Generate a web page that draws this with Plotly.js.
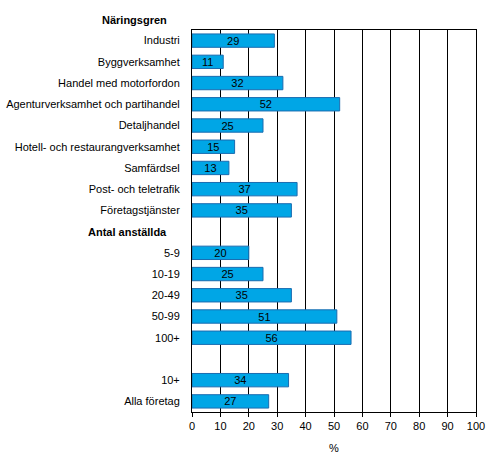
<!DOCTYPE html>
<html>
<head>
<meta charset="utf-8">
<script src="https://cdn.plot.ly/plotly-3.0.1.min.js"></script>
<style>html,body{margin:0;padding:0;background:#fff;}#chart{width:492px;height:471px;}</style>
</head>
<body>
<div id="chart"></div>
<script>
// Row keys (spacer rows have empty labels)
var rowKeys = ["Industri","Byggverksamhet","Handel med motorfordon","Agenturverksamhet och partihandel","Detaljhandel","Hotell- och restaurangverksamhet","Samfärdsel","Post- och teletrafik","Företagstjänster","gap1","5-9","10-19","20-49","50-99","100+","gap2","10+","Alla företag"];
var rowLabels = ["Industri","Byggverksamhet","Handel med motorfordon","Agenturverksamhet och partihandel","Detaljhandel","Hotell- och restaurangverksamhet","Samfärdsel","Post- och teletrafik","Företagstjänster","","5-9","10-19","20-49","50-99","100+","","10+","Alla företag"];
var values = [29,11,32,52,25,15,13,37,35,null,20,25,35,51,56,null,34,27];
var groupHeaders = ["Näringsgren","Antal anställda"];
var xTicks = [0,10,20,30,40,50,60,70,80,90,100];
var xTitle = "%";

var font = "Liberation Sans, Arial, sans-serif";

var trace = {
  type: "bar",
  orientation: "h",
  y: rowKeys,
  x: values,
  width: 0.63,
  marker: {color: "#00a6e6", line: {color: "#1a6cb0", width: 1}},
  text: values.map(function(v){return v===null?"":String(v);}),
  textposition: "inside",
  insidetextanchor: "middle",
  constraintext: "none",
  textangle: 0,
  textfont: {family: font, size: 11, color: "#000"},
  insidetextfont: {family: font, size: 11, color: "#000"},
  hoverinfo: "none",
  cliponaxis: false
};

var layout = {
  width: 492, height: 471,
  margin: {l: 192, r: 16, t: 30, b: 59},
  paper_bgcolor: "#fff", plot_bgcolor: "#fff",
  showlegend: false,
  font: {family: font, size: 11, color: "#000"},
  uniformtext: {mode: false},
  xaxis: {
    range: [0, 100], tickvals: xTicks, ticktext: xTicks.map(String),
    showgrid: true, gridcolor: "#000", gridwidth: 1,
    showline: true, linecolor: "#000", linewidth: 1, mirror: true,
    ticks: "outside", ticklen: 4, tickcolor: "#000",
    zeroline: false, fixedrange: true,
    tickfont: {family: font, size: 11, color: "#000"},
    title: {text: xTitle, font: {family: font, size: 11, color: "#000"}, standoff: 13}
  },
  yaxis: {
    type: "category", categoryorder: "array", categoryarray: rowKeys,
    tickvals: rowKeys, ticktext: rowLabels,
    autorange: "reversed",
    showgrid: false, zeroline: false,
    showline: true, linecolor: "#000", linewidth: 1, mirror: true,
    ticks: "", ticklabelstandoff: 9,
    tickfont: {family: font, size: 11, color: "#000"},
    fixedrange: true
  },
  annotations: [
    {text: "<b>" + groupHeaders[0] + "</b>", xref: "paper", yref: "paper", x: -0.081, y: 1.026, xanchor: "right", yanchor: "middle", showarrow: false, font: {family: font, size: 11, color: "#000"}},
    {text: "<b>" + groupHeaders[1] + "</b>", xref: "paper", yref: "y", x: -0.081, y: "gap1", xanchor: "right", yanchor: "middle", showarrow: false, font: {family: font, size: 11, color: "#000"}}
  ]
};

Plotly.newPlot("chart", [trace], layout, {displayModeBar: false, staticPlot: true});
</script>
</body>
</html>
